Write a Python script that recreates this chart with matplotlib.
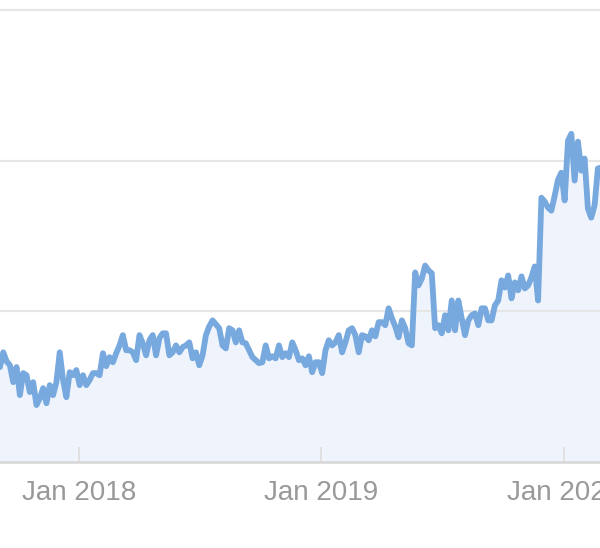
import matplotlib
matplotlib.use("Agg")
import matplotlib.pyplot as plt
import matplotlib.dates as mdates
import pandas as pd
import numpy as np

# ---- data (one value every 5 days) ----
start_date = "2017-09-04"
values = [
    31.5, 36.4, 33.4, 32.1, 26.5, 31.5, 22.2, 29.5, 28.8, 23.2,
    26.5, 18.9, 21.2, 24.5, 19.5, 25.5, 22.2, 26.5, 36.4, 27.2,
    21.5, 29.8, 28.8, 30.5, 25.5, 28.8, 25.5, 27.2, 29.5, 29.5,
    28.8, 36.1, 31.8, 34.8, 33.1, 36.1, 38.7, 42.1, 37.1, 37.1,
    36.4, 33.8, 42.1, 39.4, 35.4, 40.4, 42.1, 35.4, 41.1, 42.7,
    42.7, 35.4, 36.4, 38.7, 36.4, 38.1, 38.7, 39.7, 34.4, 36.4,
    32.1, 35.4, 42.1, 45.0, 47.0, 45.7, 44.4, 38.7, 37.7, 44.4,
    43.7, 39.7, 43.7, 39.7, 39.4, 37.1, 34.8, 33.8, 32.8, 33.1,
    38.7, 34.4, 35.1, 34.4, 38.7, 34.8, 36.1, 34.8, 39.7, 37.1,
    33.8, 34.4, 32.1, 35.1, 29.8, 33.1, 33.1, 29.5, 37.1, 40.4,
    38.7, 39.7, 42.1, 36.4, 39.7, 43.7, 44.4, 42.1, 36.4, 42.1,
    41.7, 40.4, 43.7, 41.7, 46.4, 46.4, 45.4, 51.0, 47.7, 45.0,
    41.4, 47.0, 44.4, 39.4, 38.7, 62.9, 58.6, 60.9, 65.2, 63.6,
    62.6, 44.4, 45.4, 42.7, 48.7, 43.7, 53.6, 43.7, 53.6, 47.7,
    42.1, 47.0, 48.7, 49.3, 45.4, 51.0, 51.0, 47.0, 47.0, 52.0,
    53.6, 60.3, 57.9, 61.9, 54.3, 59.6, 57.0, 61.6, 57.6, 58.6,
    61.3, 64.9, 53.6, 87.7, 86.4, 84.4, 83.4, 88.4, 93.7, 96.0,
    86.8, 106.6, 108.9, 93.4, 106.3, 96.7, 100.7, 84.1, 81.1, 85.1,
    97.4, 97.7,
]
dates = pd.date_range(start_date, periods=len(values), freq="5D")
tick_dates = ["2018-01-01", "2019-01-01", "2020-01-01"]
tick_labels = ["Jan 2018", "Jan 2019", "Jan 2020"]
y_grid = [50, 100, 150]

# ---- figure ----
W, H = 600, 548
fig = plt.figure(figsize=(W / 100, H / 100), dpi=100)
fig.patch.set_facecolor("white")

# axes: baseline at pixel row 462, value 150 at row 10
px_per_unit = (462 - 10) / 150.0
ymax = 158
bottom = (H - 462) / H
height = ymax * px_per_unit / H
ax = fig.add_axes([0, bottom, 1, height])

line_color = "#78a9de"
fill_color = "#eff4fc"
ax.fill_between(dates, values, 0, color=fill_color, linewidth=0, zorder=1)
ax.plot(dates, values, color=line_color, linewidth=4.2, solid_joinstyle="round",
        solid_capstyle="round", zorder=3)

# x scale: Jan 2018 at px 79, Jan 2019 at px 321, Jan 2020 at px 564
d18 = mdates.datestr2num("2018-01-01")
d20 = mdates.datestr2num("2020-01-01")
px_per_day = (564 - 79) / (d20 - d18)
ax.set_xlim(d18 - 79 / px_per_day, d18 + (600 - 79) / px_per_day)
ax.set_ylim(0, ymax)

ax.set_axisbelow(False)
ax.set_yticks(y_grid)
ax.yaxis.grid(True, color="#e6e6e6", linewidth=1.6)
ax.tick_params(axis="y", length=0, labelleft=False)

ax.set_xticks([mdates.datestr2num(d) for d in tick_dates])
ax.set_xticklabels(tick_labels, fontsize=20, color="#999999", family="Liberation Sans")
ax.tick_params(axis="x", direction="in", length=11, width=1.4, color="#e0e0e0", pad=13)

for s in ["top", "left", "right"]:
    ax.spines[s].set_visible(False)
ax.spines["bottom"].set_color("#d6d6d6")
ax.spines["bottom"].set_linewidth(1.8)
ax.spines["bottom"].set_zorder(2.6)
ax.set_facecolor("white")

fig.savefig("out.png", dpi=100)
